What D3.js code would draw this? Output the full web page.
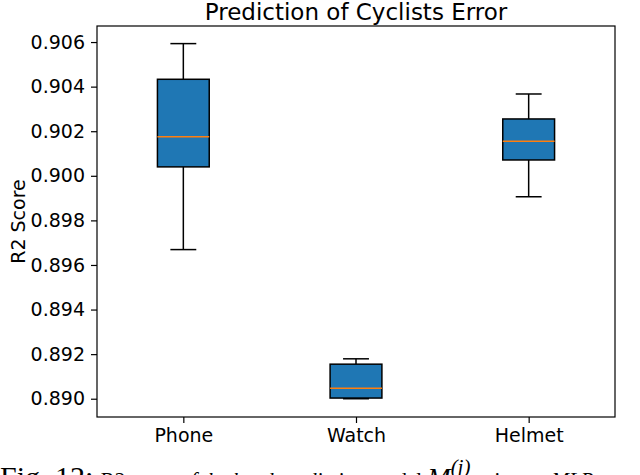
<!DOCTYPE html>
<html>
<head>
<meta charset="utf-8">
<script src="https://cdn.jsdelivr.net/npm/d3@7"></script>
<style>
  body { margin: 0; background: #fff; }
  svg { display: block; }
  .axis text { font-family: 'DejaVu Sans', sans-serif; font-size: 19px; fill: #000; }
  .axis path, .axis line { stroke: #000; stroke-width: 1.2; }
</style>
</head>
<body>
<div id="chart"></div>
<script>
// values
const categories = ['Phone', 'Watch', 'Helmet'];
const whiskerLow = [0.89669, 0.89000, 0.89906];
const q1 = [0.90040, 0.89003, 0.90071];
const median = [0.90175, 0.89047, 0.90155];
const q3 = [0.90433, 0.89155, 0.90255];
const whiskerHigh = [0.90593, 0.89179, 0.90367];
const yTicks = [0.890, 0.892, 0.894, 0.896, 0.898, 0.900, 0.902, 0.904, 0.906];

const W = 640, H = 475;
const margin = { top: 26, right: 25, bottom: 58, left: 97 };
const width = W - margin.left - margin.right;
const height = H - margin.top - margin.bottom;

const svg = d3.select('#chart').append('svg')
  .attr('width', W)
  .attr('height', H);

const chart = svg.append('g')
  .attr('transform', 'translate(' + margin.left + ',' + margin.top + ')');

const x = d3.scalePoint()
  .domain(categories)
  .range([0, width])
  .padding(0.5);

const y = d3.scaleLinear()
  .domain([0.88918, 0.90672])
  .range([height, 0]);

const boxW = x.step() * 0.3;
const capW = boxW / 2;

const boxes = categories.map((c, i) => ({
  cat: c, lo: whiskerLow[i], q1: q1[i], med: median[i], q3: q3[i], hi: whiskerHigh[i]
}));

const g = chart.selectAll('.box').data(boxes).enter()
  .append('g')
  .attr('class', 'box')
  .attr('transform', d => 'translate(' + x(d.cat) + ',0)');

// whiskers
g.append('line')
  .attr('x1', 0).attr('x2', 0)
  .attr('y1', d => y(d.hi)).attr('y2', d => y(d.q3))
  .attr('stroke', '#000').attr('stroke-width', 1.5);
g.append('line')
  .attr('x1', 0).attr('x2', 0)
  .attr('y1', d => y(d.q1)).attr('y2', d => y(d.lo))
  .attr('stroke', '#000').attr('stroke-width', 1.5);

// caps
g.append('line')
  .attr('x1', -capW / 2).attr('x2', capW / 2)
  .attr('y1', d => y(d.hi)).attr('y2', d => y(d.hi))
  .attr('stroke', '#000').attr('stroke-width', 1.5);
g.append('line')
  .attr('x1', -capW / 2).attr('x2', capW / 2)
  .attr('y1', d => y(d.lo)).attr('y2', d => y(d.lo))
  .attr('stroke', '#000').attr('stroke-width', 1.5);

// box
g.append('rect')
  .attr('x', -boxW / 2)
  .attr('width', boxW)
  .attr('y', d => y(d.q3))
  .attr('height', d => y(d.q1) - y(d.q3))
  .attr('fill', '#1f77b4')
  .attr('stroke', '#000')
  .attr('stroke-width', 1.5);

// median
g.append('line')
  .attr('x1', -boxW / 2).attr('x2', boxW / 2)
  .attr('y1', d => y(d.med)).attr('y2', d => y(d.med))
  .attr('stroke', '#ff7f0e').attr('stroke-width', 1.5);

// axes
const yAxis = d3.axisLeft(y)
  .tickValues(yTicks)
  .tickFormat(d3.format('.3f'))
  .tickSize(6)
  .tickPadding(6);

const xAxis = d3.axisBottom(x)
  .tickSize(6)
  .tickPadding(6);

chart.append('g')
  .attr('class', 'y axis')
  .call(yAxis)
  .call(s => s.select('.domain').remove());

chart.append('g')
  .attr('class', 'x axis')
  .attr('transform', 'translate(0,' + height + ')')
  .call(xAxis)
  .call(s => s.select('.domain').remove());

// frame
chart.append('rect')
  .attr('width', width)
  .attr('height', height)
  .attr('fill', 'none')
  .attr('stroke', '#000')
  .attr('stroke-width', 1.2);

// title and label
svg.append('text')
  .attr('x', margin.left + width / 2)
  .attr('y', 20)
  .attr('text-anchor', 'middle')
  .style('font-family', "'DejaVu Sans', sans-serif")
  .style('font-size', '23px')
  .text('Prediction of Cyclists Error');

svg.append('text')
  .attr('transform', 'translate(25,' + (margin.top + height / 2) + ') rotate(-90)')
  .attr('text-anchor', 'middle')
  .style('font-family', "'DejaVu Sans', sans-serif")
  .style('font-size', '19px')
  .text('R2 Score');

// caption, cut off by the bottom edge as in the reference
const cap = svg.append('text')
  .attr('x', 0)
  .attr('y', 487)
  .style('font-family', "'Liberation Serif', serif")
  .style('font-size', '21px');
cap.append('tspan').style('font-size', '30px').text('Fig. 12: ');
cap.append('tspan').text('R2 score ');
cap.append('tspan').style('font-style', 'italic').text('of the head prediction');
cap.append('tspan').text(' model ');
cap.append('tspan').style('font-size', '28px').style('font-style', 'italic').text('M');
cap.append('tspan').attr('dy', -13).style('font-size', '21px').style('font-style', 'italic').text('(j)');
cap.append('tspan').attr('dy', 13).text(' using an ');
cap.append('tspan').style('font-style', 'italic').text('MLP');
</script>
</body>
</html>
